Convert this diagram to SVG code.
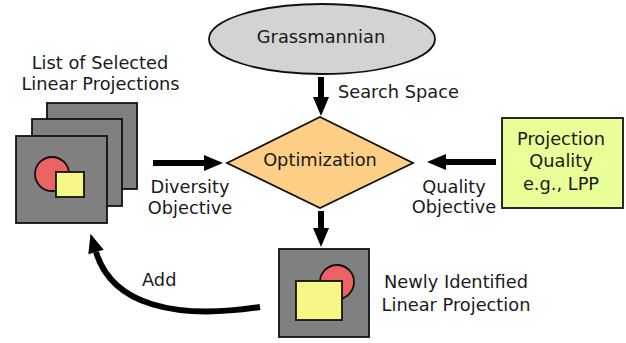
<svg xmlns="http://www.w3.org/2000/svg" width="626" height="343" viewBox="0 0 626 343">
<style>
text{font-family:"DejaVu Sans","Liberation Sans",sans-serif;font-size:17.8px;fill:#1a1a1a}
.c{text-anchor:middle}
.pane{fill:#808080;stroke:#111;stroke-width:1.8}
.red{fill:#e86361;stroke:#111;stroke-width:1.8}
.yel{fill:#f7f788;stroke:#111;stroke-width:1.8}
.conn{fill:none;stroke:#000;stroke-width:6;marker-end:url(#ah)}
</style>
<defs>
<marker id="ah" markerUnits="userSpaceOnUse" markerWidth="20" markerHeight="16" refX="0" refY="8" orient="auto" overflow="visible">
<path d="M0,0 L19,8 L0,16 Z" fill="#000"/>
</marker>
</defs>
<g id="grassmannian">
<ellipse cx="322" cy="39" rx="113" ry="35" fill="#d3d3d3" stroke="#111" stroke-width="1.8"/>
<text class="c" x="321" y="43">Grassmannian</text>
</g>
<g id="optimization">
<polygon points="227,163 320,117 413,163 320,208" fill="#fdcf86" stroke="#111" stroke-width="1.8"/>
<text class="c" x="320" y="166">Optimization</text>
</g>
<g id="selected-list">
<text class="c" x="100" y="69">List of Selected</text>
<text class="c" x="100.5" y="90">Linear Projections</text>
<rect class="pane" x="47" y="103" width="90" height="86"/>
<rect class="pane" x="32" y="119" width="90" height="87"/>
<rect class="pane" x="16" y="136" width="91" height="87"/>
<circle class="red" cx="52" cy="174" r="17"/>
<rect class="yel" x="56" y="172" width="28" height="25"/>
</g>
<g id="quality">
<rect x="502" y="118" width="121" height="90" fill="#e9ff97" stroke="#111" stroke-width="1.8"/>
<text class="c" x="561" y="145">Projection</text>
<text class="c" x="561" y="167">Quality</text>
<text class="c" x="561" y="190">e.g., LPP</text>
</g>
<g id="new-projection">
<rect class="pane" x="279" y="249" width="90" height="88"/>
<circle class="red" cx="337" cy="282" r="17"/>
<rect class="yel" x="296" y="281" width="46" height="39"/>
<text class="c" x="456" y="288">Newly Identified</text>
<text class="c" x="456" y="311">Linear Projection</text>
</g>
<g id="connectors">
<path class="conn" d="M321,77 L321,97"/>
<text x="338" y="98">Search Space</text>
<path class="conn" d="M153,163 L204,163"/>
<text class="c" x="190" y="193">Diversity</text>
<text class="c" x="190" y="214">Objective</text>
<path class="conn" d="M496,162 L446,162"/>
<text class="c" x="454" y="193">Quality</text>
<text class="c" x="454" y="213">Objective</text>
<path class="conn" d="M321,211 L321,228"/>
<path class="conn" d="M260,307 C175,320 112,305 96,252"/>
<text x="142" y="286">Add</text>
</g>
</svg>
